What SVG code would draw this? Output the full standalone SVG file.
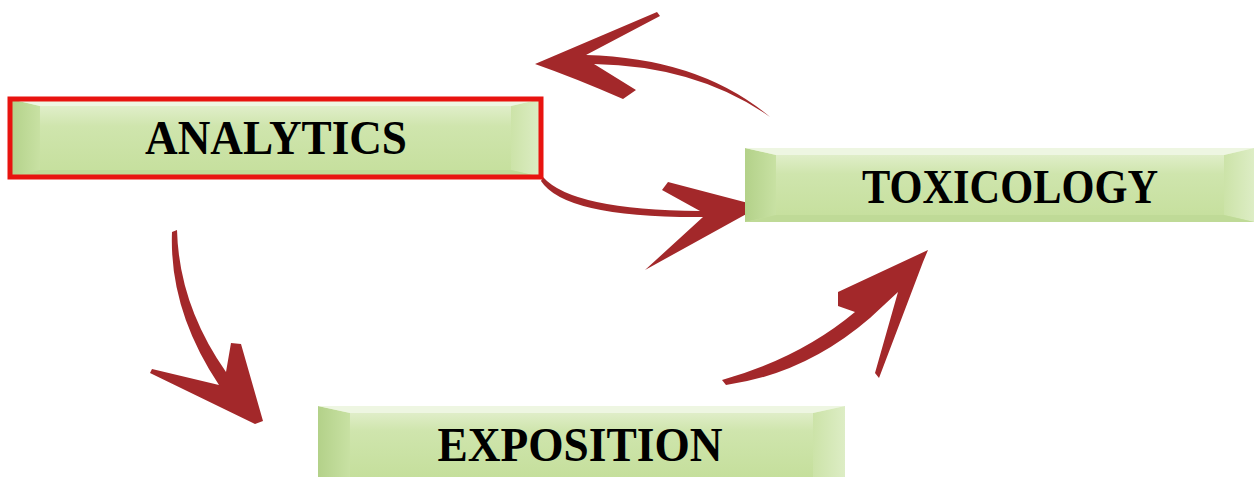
<svg xmlns="http://www.w3.org/2000/svg" width="1254" height="477" viewBox="0 0 1254 477">
<defs>
<linearGradient id="face" x1="0" y1="0" x2="0" y2="1">
<stop offset="0" stop-color="#e6f1d3"/>
<stop offset="0.35" stop-color="#cfe5ad"/>
<stop offset="1" stop-color="#c5df9c"/>
</linearGradient>
<linearGradient id="lside" x1="0" y1="0" x2="1" y2="0">
<stop offset="0" stop-color="#b3d189"/>
<stop offset="1" stop-color="#c8e1a3"/>
</linearGradient>
<linearGradient id="rside" x1="0" y1="0" x2="1" y2="0">
<stop offset="0" stop-color="#cce3a8"/>
<stop offset="1" stop-color="#ddedc5"/>
</linearGradient>
</defs>
<style>
.lbl{font-family:"Liberation Serif","Times New Roman",serif;font-weight:bold;font-size:48px;fill:#000;text-anchor:middle}
.top{fill:#eef6e2}
.bot{fill:#bfda97}
.arr{fill:#a3282a}
</style>

<g id="connectors">
<path class="arr" d="M535,64 L657,12 L660,16 L586,55 Q700,58 770,117 Q698,66 594,64 L636,90 L623,99 Q575,78 535,64 Z"/>
<path class="arr" d="M543,177 Q572,210 700,211 L662,190 L668,182 L752,204 L750,212 L645,270 L703,217 Q565,218 541,181 Z"/>
<path class="arr" d="M177,230 Q179,305 226,372 L231,343 L241,344 L263,421 L255,424 L150,373 L152,369 L219,385 Q169,310 172,232 Z"/>
<path class="arr" d="M722,380 Q800,358 855,312 L838,306 L838,292 L928,250 L923,262 L879,378 L875,373 L898,292 L870,318 Q805,374 726,385 Z"/>
</g>

<g id="analytics">
<rect x="10" y="99" width="531" height="78" fill="url(#face)"/>
<polygon points="10,99 40,106 40,170 10,177" fill="url(#lside)"/>
<polygon points="541,99 511,106 511,170 541,177" fill="url(#rside)"/>
<polygon class="top" points="10,99 541,99 511,106 40,106"/>
<polygon class="bot" points="10,177 541,177 511,170 40,170"/>
<rect x="10" y="99" width="531" height="78" fill="none" stroke="#e8130f" stroke-width="5"/>
<text class="lbl" x="276" y="154" textLength="262" lengthAdjust="spacingAndGlyphs">ANALYTICS</text>
</g>

<g id="toxicology">
<rect x="745" y="148" width="509" height="74" fill="url(#face)"/>
<polygon points="745,148 776,155 776,215 745,222" fill="url(#lside)"/>
<polygon points="1254,148 1224,155 1224,215 1254,222" fill="url(#rside)"/>
<polygon class="top" points="745,148 1254,148 1224,155 776,155"/>
<polygon class="bot" points="745,222 1254,222 1224,215 776,215"/>
<text class="lbl" x="1010" y="203" textLength="296" lengthAdjust="spacingAndGlyphs">TOXICOLOGY</text>
</g>

<g id="exposition">
<rect x="318" y="406" width="527" height="71" fill="url(#face)"/>
<polygon points="318,406 350,413 350,477 318,477" fill="url(#lside)"/>
<polygon points="845,406 813,413 813,477 845,477" fill="url(#rside)"/>
<polygon class="top" points="318,406 845,406 813,413 350,413"/>
<text class="lbl" x="580" y="461" textLength="285" lengthAdjust="spacingAndGlyphs">EXPOSITION</text>
</g>
</svg>
